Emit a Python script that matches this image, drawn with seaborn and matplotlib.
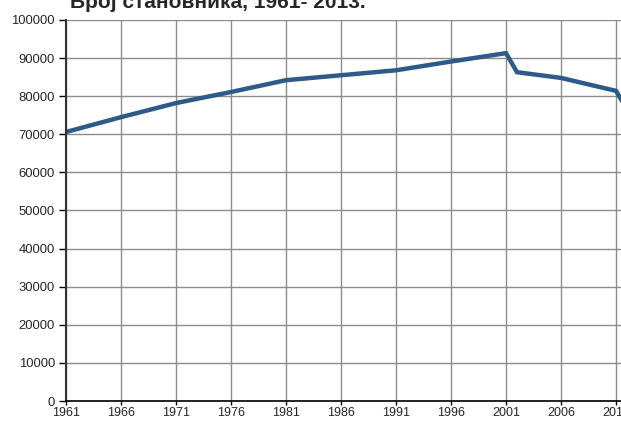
import matplotlib
matplotlib.use("Agg")
import matplotlib.pyplot as plt
import seaborn as sns
import pandas as pd

# Population by year
years = [1961, 1966, 1971, 1976, 1981, 1986, 1991, 1996, 2001, 2002, 2006, 2011, 2012]
population = [70600, 74500, 78200, 81100, 84200, 85500, 86800, 89100, 91300, 86300, 84800, 81400, 76500]
x_ticks = [1961, 1966, 1971, 1976, 1981, 1986, 1991, 1996, 2001, 2006, 2011]
y_ticks = list(range(0, 100001, 10000))
title = "Број становника, 1961- 2013."

df = pd.DataFrame({"year": years, "population": population})

sns.set_style("white")
plt.rcParams["font.family"] = ["Liberation Sans", "DejaVu Sans"]

fig = plt.figure(figsize=(6.21, 4.21), dpi=100)
ax = fig.add_axes([66 / 621, 20 / 421, 1 - 66 / 621, 381 / 421])

sns.lineplot(data=df, x="year", y="population", ax=ax,
             color="#2E5A8A", linewidth=3.2, solid_joinstyle="miter")

ax.set_xlim(1961, 1961 + (621 - 66) / 11)
ax.set_ylim(0, 100000)
ax.set_xticks(x_ticks)
ax.set_yticks(y_ticks)
ax.set_xticklabels([str(y) for y in x_ticks])
ax.set_yticklabels([str(y) for y in y_ticks])
ax.grid(True, color="#8c8c8c", linewidth=1.0)
ax.set_axisbelow(True)
ax.tick_params(axis="y", direction="out", length=5, width=1,
               color="black", labelsize=9.4, pad=3, left=True)
ax.tick_params(axis="x", direction="out", length=3, width=1,
               color="black", labelsize=9, pad=1, bottom=True)
ax.set_xlabel("")
ax.set_ylabel("")
for side in ["top", "right"]:
    ax.spines[side].set_visible(False)
ax.spines["left"].set_color("#333333")
ax.spines["left"].set_linewidth(1.5)
ax.spines["bottom"].set_color("black")
ax.spines["bottom"].set_linewidth(1.2)

fig.text(70 / 621, 1 - 8 / 421, title, fontsize=15, fontweight="bold",
         ha="left", va="baseline")

fig.savefig("out.png", dpi=100)
